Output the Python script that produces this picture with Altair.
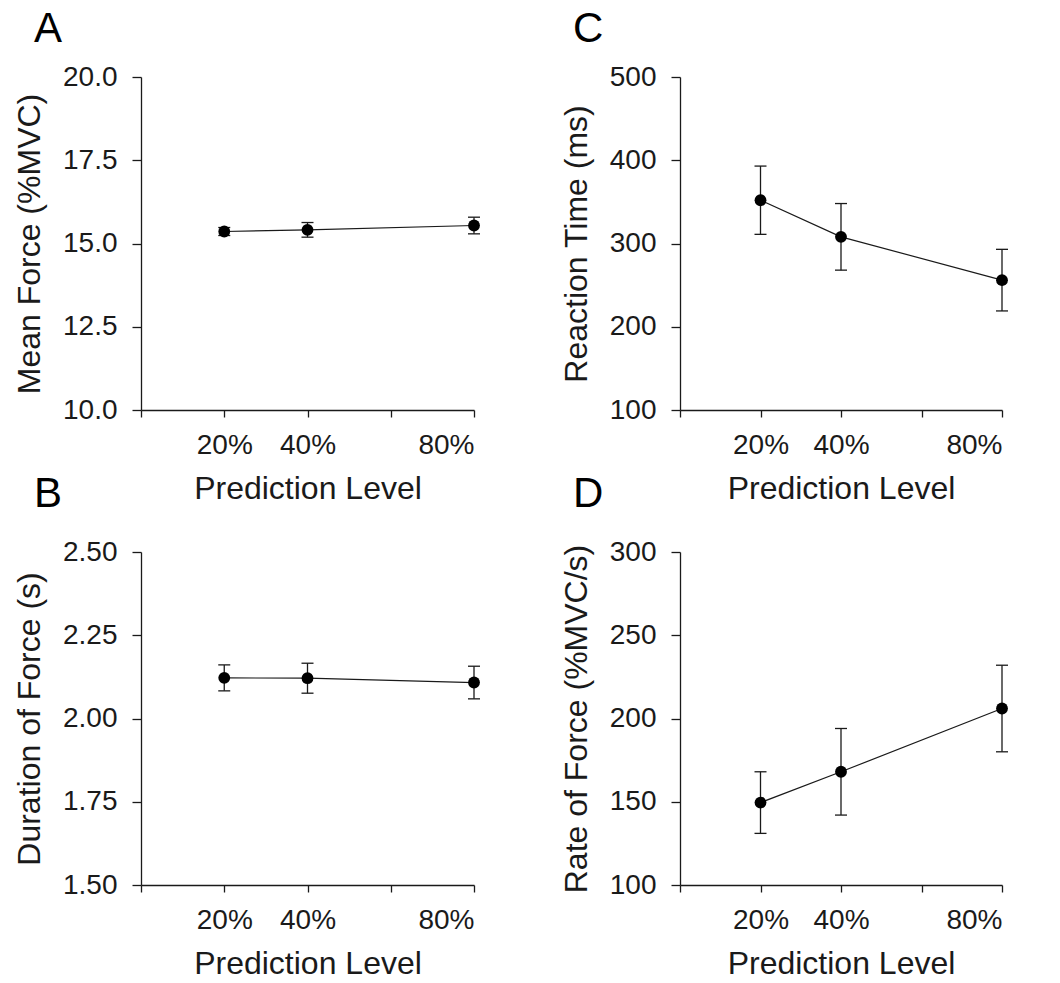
import altair as alt
import pandas as pd

levels = [20, 40, 80]

force_mean = [15.36, 15.41, 15.54]
force_err = [0.12, 0.22, 0.25]

rt_mean = [352, 308, 256]
rt_err = [41, 40, 37]

dur_mean = [2.122, 2.121, 2.108]
dur_err = [0.039, 0.045, 0.049]

rate_mean = [149.5, 168, 206]
rate_err = [18.5, 26, 26]

FONT = "Liberation Sans"
INK = "#1a1a1a"


def make_df(means, errs):
    return pd.DataFrame({
        "level": levels,
        "mean": means,
        "lo": [m - e for m, e in zip(means, errs)],
        "hi": [m + e for m, e in zip(means, errs)],
    })


def panel(means, errs, letter, ytitle, ydomain, yticks, yfmt, width, letter_offset):
    df = make_df(means, errs)
    xaxis = alt.Axis(
        values=[0, 20, 40, 60, 80],
        labelExpr="(datum.value == 0 || datum.value == 60) ? '' : datum.value + '%'",
        title="Prediction Level",
        tickSize=7,
        labelPadding=14,
        titlePadding=14,
        grid=False,
    )
    yaxis = alt.Axis(
        values=yticks,
        format=yfmt,
        title=ytitle,
        tickSize=9,
        labelPadding=15,
        titlePadding=16,
        grid=False,
    )
    xs = alt.Scale(domain=[0, 80], nice=False, zero=False)
    ys = alt.Scale(domain=ydomain, nice=False, zero=False)

    def X():
        return alt.X("level:Q", scale=xs, axis=xaxis)

    def Y(field):
        return alt.Y(f"{field}:Q", scale=ys, axis=yaxis)

    base = alt.Chart(df)
    bars = base.mark_rule(color=INK, strokeWidth=1.3).encode(
        x=X(), y=Y("lo"), y2="hi:Q"
    )
    cap_lo = base.mark_tick(orient="horizontal", size=12, thickness=1.3, color=INK, opacity=1).encode(
        x=X(), y=Y("lo")
    )
    cap_hi = base.mark_tick(orient="horizontal", size=12, thickness=1.3, color=INK, opacity=1).encode(
        x=X(), y=Y("hi")
    )
    line = base.mark_line(color=INK, strokeWidth=1.2).encode(x=X(), y=Y("mean"))
    pts = base.mark_circle(size=140, color="black", opacity=1).encode(x=X(), y=Y("mean"))

    return alt.layer(bars, cap_lo, cap_hi, line, pts).properties(
        width=width,
        height=333,
        title=alt.TitleParams(
            text=letter,
            anchor="start",
            frame="group",
            dx=-107,
            offset=letter_offset,
            baseline="alphabetic",
            fontSize=42,
            font=FONT,
            fontWeight="normal",
            color="black",
        ),
    )


pA = panel(force_mean, force_err, "A", "Mean Force (%MVC)", [10, 20],
           [10, 12.5, 15, 17.5, 20], ".1f", 333, -21)
pC = panel(rt_mean, rt_err, "C", "Reaction Time (ms)", [100, 500],
           [100, 200, 300, 400, 500], "d", 322, -21)
pB = panel(dur_mean, dur_err, "B", "Duration of Force (s)", [1.5, 2.5],
           [1.5, 1.75, 2.0, 2.25, 2.5], ".2f", 333, -11)
pD = panel(rate_mean, rate_err, "D", "Rate of Force (%MVC/s)", [100, 300],
           [100, 150, 200, 250, 300], "d", 322, -11)

chart = alt.concat(
    pA, pC, pB, pD,
    columns=2,
    spacing={"row": 142, "column": 206},
    bounds="flush",
).configure_view(
    stroke=None
).configure_axis(
    labelFont=FONT,
    titleFont=FONT,
    labelFontSize=28,
    titleFontSize=32,
    titleFontWeight="normal",
    labelColor=INK,
    titleColor=INK,
    domainColor=INK,
    tickColor=INK,
    domainWidth=1.3,
    tickWidth=1.3,
).properties(
    padding={"left": 5, "top": 0, "right": 5, "bottom": 0},
    background="white",
)

chart.save("out.html", embed_options={"renderer": "svg", "actions": False})
